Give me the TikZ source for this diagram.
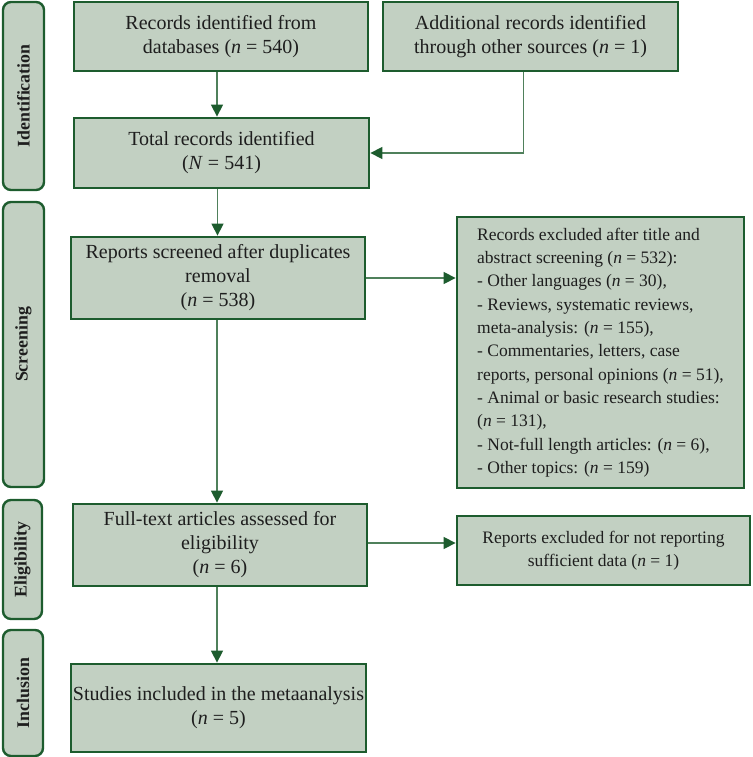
\documentclass[tikz,border=0pt]{standalone}
\usepackage{fontspec}
\setmainfont{Liberation Serif}
\usetikzlibrary{arrows.meta}
\definecolor{boxfill}{HTML}{C2D0C2}
\definecolor{boxline}{HTML}{1D5C2E}
\definecolor{conline}{HTML}{4F805B}
\definecolor{txt}{HTML}{1E1E1E}
\begin{document}
\begin{tikzpicture}[x=1pt,y=-1pt,
  mainbox/.style={draw=boxline,line width=2.8pt,fill=boxfill,text=txt,
    font=\fontsize{20}{24}\selectfont,align=center,inner sep=0pt},
  sidebox/.style={draw=boxline,line width=2.4pt,fill=boxfill,rounded corners=8pt,
    text=txt,font=\fontsize{17.8}{20}\selectfont\bfseries,rotate=90,inner sep=0pt},
  conn/.style={draw=conline,line width=1.4pt,-{Triangle[length=12pt,width=12pt,fill=boxline,color=boxline]}}
]
\useasboundingbox (0,0) rectangle (752,757);
% side labels
\node[sidebox,minimum width=188pt,minimum height=41pt] (sidI) at (23.5,96) {Identification};
\node[sidebox,minimum width=285pt,minimum height=41pt] (sidS) at (23.5,344.5) {Screening};
\node[sidebox,minimum width=119pt,minimum height=39pt] (sidE) at (22.5,559.5) {Eligibility};
\node[sidebox,minimum width=126pt,minimum height=40pt] (sidN) at (23,693) {Inclusion};
% boxes
\node[mainbox,minimum width=294pt,minimum height=69pt] (A) at (221,36.5)
  {Records identified from\\databases (\textit{n} = 540)};
\node[mainbox,minimum width=295pt,minimum height=69pt] (B) at (530.5,36.5)
  {Additional records identified\\through other sources (\textit{n} = 1)};
\node[mainbox,minimum width=295pt,minimum height=70pt] (C) at (221.5,153)
  {Total records identified\\(\textit{N} = 541)};
\node[mainbox,minimum width=294pt,minimum height=82pt] (D) at (218,278)
  {Reports screened after duplicates\\removal\\(\textit{n} = 538)};
\node[mainbox,minimum width=287pt,minimum height=271pt,align=left,
  font=\fontsize{17.5}{23.3}\selectfont] (E) at (600.5,352.5)
  {Records excluded after title and\\
   abstract screening (\textit{n} = 532):\\
   - Other languages (\textit{n} = 30),\\
   - Reviews, systematic reviews,\\
   meta-analysis: (\textit{n} = 155),\\
   - Commentaries, letters, case\\
   reports, personal opinions (\textit{n} = 51),\\
   - Animal or basic research studies:\\
   (\textit{n} = 131),\\
   - Not-full length articles: (\textit{n} = 6),\\
   - Other topics: (\textit{n} = 159)};
\node[mainbox,minimum width=294pt,minimum height=82pt] (F) at (220,545)
  {Full-text articles assessed for\\eligibility\\(\textit{n} = 6)};
\node[mainbox,minimum width=293pt,minimum height=69pt,
  font=\fontsize{17.5}{23.3}\selectfont] (G) at (603.5,550.5)
  {Reports excluded for not reporting\\sufficient data (\textit{n} = 1)};
\node[mainbox,minimum width=295pt,minimum height=88pt] (H) at (218.5,708)
  {Studies included in the metaanalysis\\(\textit{n} = 5)};
% connectors
\draw[conn] ([xshift=-4pt]A.south) -- ([xshift=-4pt]A.south |- C.north);
\draw[conn] ([xshift=-7pt]B.south) |- (C.east);
\draw[conn] ([xshift=-4pt]C.south) -- ([xshift=-4pt]C.south |- D.north);
\draw[conn] (D.east) -- (E.west |- D.east);
\draw[conn] ([xshift=-1pt]D.south) -- ([xshift=-1pt]D.south |- F.north);
\draw[conn] ([yshift=2pt]F.east) -- ([yshift=2pt]G.west |- F.east);
\draw[conn] ([xshift=-3pt]F.south) -- ([xshift=-3pt]F.south |- H.north);
\end{tikzpicture}
\end{document}
